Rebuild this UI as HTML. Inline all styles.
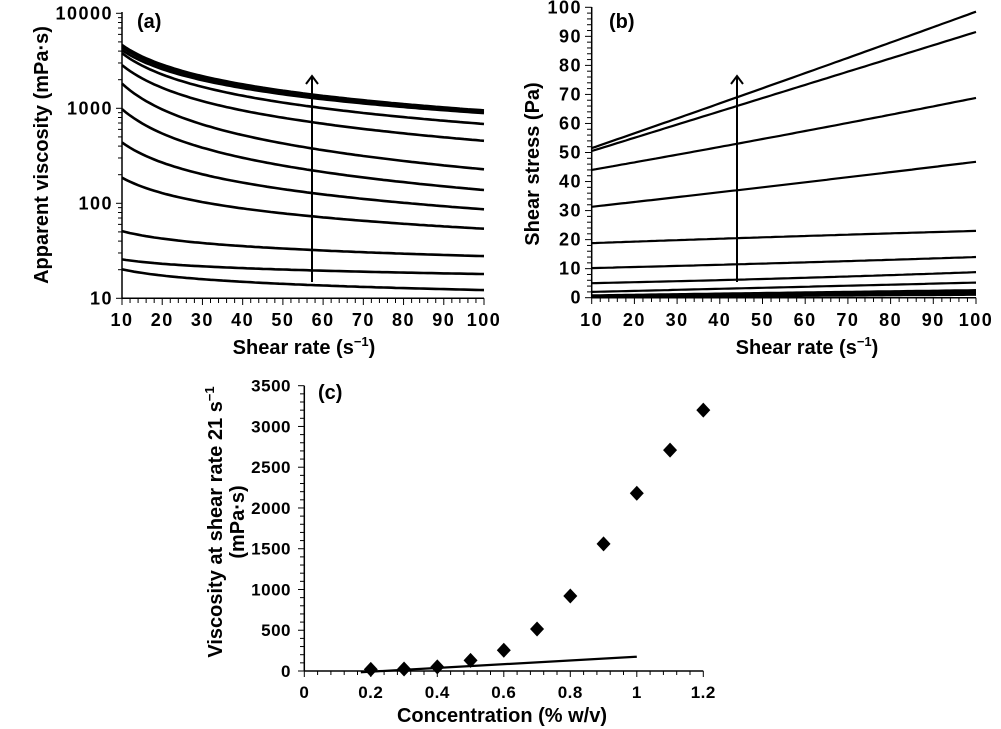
<!DOCTYPE html>
<html><head><meta charset="utf-8"><style>
html,body{margin:0;padding:0;background:#fff;}
svg{display:block;font-family:"Liberation Sans",Arial,sans-serif;font-weight:bold;}
.tk{font-size:18px;letter-spacing:1.5px;}
.tc{font-size:17px;letter-spacing:0.5px;}
.tt{font-size:20px;}
</style></head><body>
<svg id="fig" width="1001" height="729" viewBox="0 0 1001 729" xmlns="http://www.w3.org/2000/svg">
<text x="137" y="28" class="tt">(a)</text>
<text x="609" y="28" class="tt">(b)</text>
<text x="318" y="399" class="tt">(c)</text>
<text class="tt" text-anchor="middle" transform="translate(48,155) rotate(-90)">Apparent viscosity (mPa·s)</text>
<text class="tt" text-anchor="middle" transform="translate(539,164) rotate(-90)">Shear stress (Pa)</text>
<text class="tt" text-anchor="middle" transform="translate(222,522) rotate(-90)">Viscosity at shear rate 21 s<tspan dy="-8" font-size="13">−1</tspan></text>
<text class="tt" text-anchor="middle" transform="translate(244,522) rotate(-90)">(mPa·s)</text>
<text class="tt" x="304" y="354" text-anchor="middle">Shear rate (s<tspan dy="-8" font-size="13">−1</tspan><tspan dy="8">)</tspan></text>
<text class="tt" x="807" y="354" text-anchor="middle">Shear rate (s<tspan dy="-8" font-size="13">−1</tspan><tspan dy="8">)</tspan></text>
<text class="tt" x="502" y="722" text-anchor="middle">Concentration (% w/v)</text>
</svg>
<script>
// Panel (a): apparent viscosity at shear rates
const aShear = [10, 30, 55, 100];
const aVisc = [
 [4640, 2180, 1436, 950],
 [4400, 2085, 1380, 920],
 [4100, 1977, 1320, 890],
 [3800, 1680, 1070, 684],
 [2850, 1190, 738, 455],
 [1820, 676, 392, 228],
 [980, 385, 230, 138],
 [437, 202, 132, 86.5],
 [186, 103, 74.5, 54],
 [51, 38.2, 32.6, 27.8],
 [25.7, 21.7, 19.8, 18],
 [20.2, 15.9, 13.9, 12.2]
];
const aYTicks = [10, 100, 1000, 10000];
const xTicksAB = [10,20,30,40,50,60,70,80,90,100];
// Panel (b): shear stress
const bShear = [10, 44, 100];
const bStress = [
 [51.5, 69, 98.5],
 [50.5, 66, 91.5],
 [44, 53, 68.8],
 [31.3, 37, 46.8],
 [18.8, 20.5, 23],
 [10.2, 11.5, 14],
 [5, 6.2, 8.8],
 [2, 3.2, 5.2],
 [0.8, 1.5, 2.6],
 [0.5, 1.1, 2],
 [0.3, 0.8, 1.5],
 [0.2, 0.5, 1]
];
const bYTicks = [0,10,20,30,40,50,60,70,80,90,100];
// Panel (c): viscosity vs concentration
const cConc = [0.2,0.3,0.4,0.5,0.6,0.7,0.8,0.9,1.0,1.1,1.2];
const cVisc = [20,25,50,130,255,515,920,1560,2180,2710,3200];
const cLineX = [0.17, 1.0];
const cLineY = [-15, 175];
const cXTicks = [0,0.2,0.4,0.6,0.8,1,1.2];
const cYTicks = [0,500,1000,1500,2000,2500,3000,3500];

const NS="http://www.w3.org/2000/svg";
const svg=document.getElementById('fig');
function mk(tag,attrs){const e=document.createElementNS(NS,tag);for(const k in attrs)e.setAttribute(k,attrs[k]);svg.appendChild(e);return e;}
function txt(x,y,s,anchor,cls){const e=mk('text',{x:x,y:y,'text-anchor':anchor,'class':cls});e.textContent=s;return e;}

const ax=v=>122+(v-10)/90*362;
const ay=v=>298.3-(Math.log10(v)-1)*95;
const bx=v=>591.7+(v-10)/90*384.3;
const by=v=>297.7-v*2.904;
const cx=v=>304.3+v/1.2*399;
const cy=v=>671-v*285.3/3500;

function interpLog(xs,ys,x){
  let i=0;while(i<xs.length-2&&x>xs[i+1])i++;
  const t=(Math.log(x)-Math.log(xs[i]))/(Math.log(xs[i+1])-Math.log(xs[i]));
  return Math.exp(Math.log(ys[i])+t*(Math.log(ys[i+1])-Math.log(ys[i])));
}
function interpLin(xs,ys,x){
  // smooth quadratic through the three points (Lagrange)
  let s=0;
  for(let i=0;i<xs.length;i++){let p=ys[i];for(let j=0;j<xs.length;j++){if(j!==i)p*=(x-xs[j])/(xs[i]-xs[j]);}s+=p;}
  return s;
}
function curve(xs,ys,sx,sy,f){
  let d='';for(let x=xs[0];x<=xs[xs.length-1]+1e-9;x+=1){d+=(d?'L':'M')+sx(x).toFixed(1)+','+sy(f(xs,ys,x)).toFixed(1);}
  return d;
}

let e;
e=mk('line',{x1:122,y1:12,x2:122,y2:298.3,stroke:'#000','stroke-width':1.5});


e=mk('line',{x1:122,y1:298.3,x2:484,y2:298.3,stroke:'#000','stroke-width':1.5});


for(let d=1;d<=3;d++){for(let m=1;m<=9;m++){const v=Math.pow(10,d)*m;const y=ay(v);
  e=mk('line',{x1:m===1?116:118,y1:y,x2:122,y2:y,stroke:'#000','stroke-width':1});
  
  }}
e=mk('line',{x1:116,y1:ay(10000),x2:122,y2:ay(10000),stroke:'#000','stroke-width':1});


aYTicks.forEach(v=>{e=txt(113,ay(v)+6,String(v),'end','tk');
  
  });
for(let v=10;v<=100;v+=2){e=mk('line',{x1:ax(v),y1:298.3,x2:ax(v),y2:v%10===0?305:303,stroke:'#000','stroke-width':1});
  
  }
xTicksAB.forEach(v=>{e=txt(ax(v),326,String(v),'middle','tk');
  
  });
aVisc.forEach((s,i)=>{e=mk('path',{d:curve(aShear,s,ax,ay,interpLog),fill:'none',stroke:'#000','stroke-width':2.6});
  
  });
e=mk('line',{x1:312,y1:282,x2:312,y2:77,stroke:'#000','stroke-width':2});


e=mk('path',{d:'M306,84 L312,76 L318,84',fill:'none',stroke:'#000','stroke-width':2});



e=mk('line',{x1:591.7,y1:7,x2:591.7,y2:297.7,stroke:'#000','stroke-width':1.5});


e=mk('line',{x1:591.7,y1:297.7,x2:976,y2:297.7,stroke:'#000','stroke-width':1.5});


for(let v=0;v<=100;v+=2){e=mk('line',{x1:v%10===0?585:587,y1:by(v),x2:591.7,y2:by(v),stroke:'#000','stroke-width':1});
  
  }
bYTicks.forEach(v=>{e=txt(582,by(v)+6,String(v),'end','tk');
  
  });
for(let v=10;v<=100;v+=2){e=mk('line',{x1:bx(v),y1:297.7,x2:bx(v),y2:v%10===0?304:302,stroke:'#000','stroke-width':1});
  
  }
xTicksAB.forEach(v=>{e=txt(bx(v),326,String(v),'middle','tk');
  
  });
bStress.forEach((s,i)=>{e=mk('path',{d:curve(bShear,s,bx,by,interpLin),fill:'none',stroke:'#000','stroke-width':2.2});
  
  });
e=mk('line',{x1:737,y1:282,x2:737,y2:77,stroke:'#000','stroke-width':2});


e=mk('path',{d:'M731,84 L737,76 L743,84',fill:'none',stroke:'#000','stroke-width':2});



e=mk('line',{x1:304.3,y1:385.7,x2:304.3,y2:671,stroke:'#000','stroke-width':1.5});


e=mk('line',{x1:304.3,y1:671,x2:703.3,y2:671,stroke:'#000','stroke-width':1.5});


for(let v=0;v<=3500;v+=100){e=mk('line',{x1:v%500===0?298:300,y1:cy(v),x2:304.3,y2:cy(v),stroke:'#000','stroke-width':1});
  
  }
cYTicks.forEach(v=>{e=txt(291,cy(v)+6,String(v),'end','tc');
  
  });
for(let k=0;k<=30;k++){const v=k*0.04;e=mk('line',{x1:cx(v),y1:671,x2:cx(v),y2:k%5===0?677:675,stroke:'#000','stroke-width':1});
  
  }
cXTicks.forEach(v=>{e=txt(cx(v),698,String(v),'middle','tc');
  
  });
e=mk('line',{x1:cx(cLineX[0]),y1:cy(cLineY[0]),x2:cx(cLineX[1]),y2:cy(cLineY[1]),stroke:'#000','stroke-width':2.2});


cConc.forEach((c,i)=>{const x=cx(c),y=cy(cVisc[i]);
  e=mk('path',{d:`M${x},${y-7.5}L${x+7},${y}L${x},${y+7.5}L${x-7},${y}Z`,fill:'#000'});
  
  });
</script>
</body></html>
